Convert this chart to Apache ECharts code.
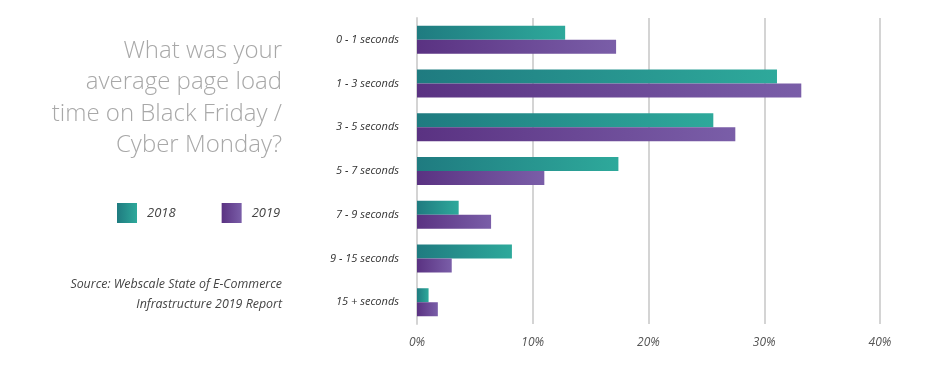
<!DOCTYPE html>
<html>
<head>
<meta charset="utf-8">
<script src="https://cdn.jsdelivr.net/npm/echarts@6/dist/echarts.min.js"></script>
<style>html,body{margin:0;padding:0;background:#fff;}#c{width:947px;height:368px;}</style>
</head>
<body>
<div id="c"></div>
<script>
const categories = ['0 - 1 seconds', '1 - 3 seconds', '3 - 5 seconds', '5 - 7 seconds', '7 - 9 seconds', '9 - 15 seconds', '15 + seconds'];
const values2018 = [12.8, 31.1, 25.6, 17.4, 3.6, 8.2, 1.0];
const values2019 = [17.2, 33.2, 27.5, 11.0, 6.4, 3.0, 1.8];
const xTicks = [0, 10, 20, 30, 40];
const titleText = 'What was your\naverage page load\ntime on Black Friday /\nCyber Monday?';
const sourceText = 'Source: Webscale State of E-Commerce\nInfrastructure 2019 Report';

const chart = echarts.init(document.getElementById('c'), null, {renderer: 'canvas'});
const grad = (a, b) => new echarts.graphic.LinearGradient(0, 0, 1, 0, [{offset: 0, color: a}, {offset: 1, color: b}]);
const teal = grad('#1f7b80', '#2ea99b');
const purple = grad('#5a3282', '#7a5ea8');

chart.setOption({
  backgroundColor: '#fff',
  textStyle: {fontFamily: '"Open Sans", sans-serif'},
  graphic: [{
    type: 'text', x: 282, y: 35,
    style: {text: titleText, align: 'right', verticalAlign: 'top', fontSize: 24, fontWeight: 300, fill: '#a8a8a8', lineHeight: 31.5, fontFamily: '"Open Sans", sans-serif'}
  }, {
    type: 'text', x: 282, y: 274,
    style: {text: sourceText, align: 'right', verticalAlign: 'top', fontSize: 12.4, fontStyle: 'italic', fill: '#444', lineHeight: 20, fontFamily: '"Open Sans", sans-serif'}
  }],
  legend: {
    left: 117, top: 203, padding: 0, itemWidth: 20, itemHeight: 20, itemGap: 46, icon: 'rect',
    textStyle: {fontSize: 13, fontStyle: 'italic', color: '#444', padding: [0, 0, 0, 5]},
    data: ['2018', '2019']
  },
  grid: {left: 417, right: 67, top: 18, bottom: 44, containLabel: false},
  xAxis: {
    type: 'value', min: xTicks[0], max: xTicks[xTicks.length - 1], interval: 10,
    axisLine: {show: false}, axisTick: {show: false},
    splitLine: {show: true, lineStyle: {color: '#d4d4d4', width: 2}},
    axisLabel: {formatter: '{value}%', fontStyle: 'italic', fontSize: 12, color: '#555', margin: 13}
  },
  yAxis: {
    type: 'category', data: categories, inverse: true,
    axisLine: {show: true, lineStyle: {color: '#d4d4d4', width: 2}}, axisTick: {show: false},
    axisLabel: {fontStyle: 'italic', fontSize: 11, color: '#333', margin: 18}
  },
  series: [
    {name: '2018', type: 'bar', data: values2018, barWidth: 14, barGap: '0%', itemStyle: {color: teal}},
    {name: '2019', type: 'bar', data: values2019, barWidth: 14, barGap: '0%', itemStyle: {color: purple}}
  ]
});
</script>
</body>
</html>
